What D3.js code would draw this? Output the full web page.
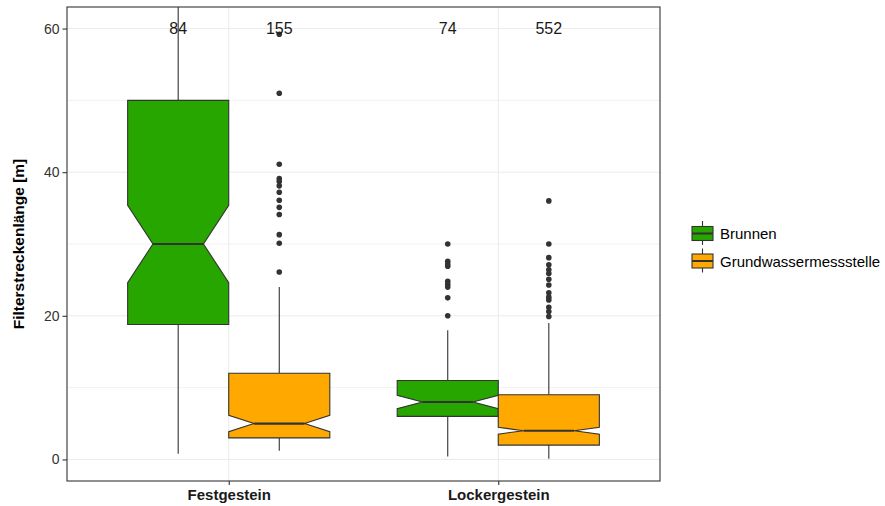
<!DOCTYPE html>
<html>
<head>
<meta charset="utf-8">
<script src="https://cdn.jsdelivr.net/npm/d3@7"></script>
<style>
  html, body { margin: 0; padding: 0; background: #fff; }
  svg { display: block; font-family: "Liberation Sans", Arial, sans-serif; }
</style>
</head>
<body>
<svg id="chart" width="885" height="506"></svg>
<script>
// Filter length by aquifer type and well type
const categories = ["Festgestein", "Lockergestein"];
const seriesNames = ["Brunnen", "Grundwassermessstelle"];
const seriesColors = ["#27a600", "#ffa800"];
const yTicks = [0, 20, 40, 60];
const yMinor = [10, 30, 50];

// One entry per box: Festgestein/Brunnen, Festgestein/GWM, Lockergestein/Brunnen, Lockergestein/GWM
const boxCategory = ["Festgestein", "Festgestein", "Lockergestein", "Lockergestein"];
const boxSeries   = ["Brunnen", "Grundwassermessstelle", "Brunnen", "Grundwassermessstelle"];
const boxN        = [84, 155, 74, 552];
const whiskerLow  = [0.8, 1.2, 0.4, 0.1];
const quartile1   = [18.8, 3, 6, 2];
const medians     = [30, 5, 8, 4];
const quartile3   = [50, 12, 11, 9];
const whiskerHigh = [75, 24, 18, 19];
const outliers = [
  [],
  [59.2, 51, 41.1, 39.1, 38.7, 38.1, 37.2, 36.1, 35.1, 34.1, 31.3, 30.1, 26.1],
  [30, 27.6, 27.2, 26.9, 24.8, 24.4, 24, 22.5, 20],
  [36, 30, 28.1, 27.1, 26.4, 25.9, 25.1, 24.3, 23.2, 22.6, 22.2, 21.2, 20.6, 19.9]
];
const countLabelY = 60;

const svg = d3.select("#chart");
const panel = { left: 67, right: 660, top: 7, bottom: 481 };

const x = d3.scalePoint().domain(categories).range([panel.left, panel.right]).padding(0.6);
const step = x.step();
const xSub = d3.scaleBand().domain(seriesNames).range([-0.375 * step, 0.375 * step]);
const y = d3.scaleLinear().domain([-3, 63]).range([panel.bottom, panel.top]);
const color = d3.scaleOrdinal().domain(seriesNames).range(seriesColors);

// clip region for the plotting panel
svg.append("defs").append("clipPath").attr("id", "panelClip")
  .append("rect")
  .attr("x", panel.left).attr("y", panel.top)
  .attr("width", panel.right - panel.left).attr("height", panel.bottom - panel.top);

// grid lines
const grid = svg.append("g");
grid.selectAll("line.minor").data(yMinor).join("line")
  .attr("x1", panel.left).attr("x2", panel.right)
  .attr("y1", d => y(d)).attr("y2", d => y(d))
  .attr("stroke", "#ebebeb").attr("stroke-width", 0.7);
grid.selectAll("line.major").data(yTicks).join("line")
  .attr("x1", panel.left).attr("x2", panel.right)
  .attr("y1", d => y(d)).attr("y2", d => y(d))
  .attr("stroke", "#ebebeb").attr("stroke-width", 1.1);
grid.selectAll("line.vmajor").data(categories).join("line")
  .attr("x1", d => x(d)).attr("x2", d => x(d))
  .attr("y1", panel.top).attr("y2", panel.bottom)
  .attr("stroke", "#ebebeb").attr("stroke-width", 1.1);

const boxes = d3.range(boxN.length).map(i => {
  const iqr = quartile3[i] - quartile1[i];
  const half = 1.58 * iqr / Math.sqrt(boxN[i]);
  return {
    cat: boxCategory[i], ser: boxSeries[i], n: boxN[i],
    lo: whiskerLow[i], q1: quartile1[i], med: medians[i], q3: quartile3[i], hi: whiskerHigh[i],
    notchLo: medians[i] - half, notchHi: medians[i] + half,
    out: outliers[i]
  };
});

const plot = svg.append("g").attr("clip-path", "url(#panelClip)");
const edge = "#333333";

boxes.forEach(b => {
  const cx = x(b.cat) + xSub(b.ser) + xSub.bandwidth() / 2;
  const w = xSub.bandwidth();
  const x0 = cx - w / 2, x1 = cx + w / 2;
  const indent = 0.25 * w;
  const g = plot.append("g");

  // whiskers
  g.append("line").attr("x1", cx).attr("x2", cx)
    .attr("y1", y(b.q3)).attr("y2", y(b.hi))
    .attr("stroke", edge).attr("stroke-width", 1.1);
  g.append("line").attr("x1", cx).attr("x2", cx)
    .attr("y1", y(b.q1)).attr("y2", y(b.lo))
    .attr("stroke", edge).attr("stroke-width", 1.1);

  // notched box
  const pts = [
    [x0, y(b.q3)], [x0, y(b.notchHi)], [x0 + indent, y(b.med)], [x0, y(b.notchLo)], [x0, y(b.q1)],
    [x1, y(b.q1)], [x1, y(b.notchLo)], [x1 - indent, y(b.med)], [x1, y(b.notchHi)], [x1, y(b.q3)]
  ];
  g.append("path").attr("d", d3.line()(pts) + "Z")
    .attr("fill", color(b.ser)).attr("stroke", edge).attr("stroke-width", 1.1)
    .attr("stroke-linejoin", "miter");

  // median
  g.append("line").attr("x1", x0 + indent).attr("x2", x1 - indent)
    .attr("y1", y(b.med)).attr("y2", y(b.med))
    .attr("stroke", edge).attr("stroke-width", 2.2);

  // outliers
  g.selectAll("circle").data(b.out).join("circle")
    .attr("cx", cx).attr("cy", d => y(d)).attr("r", 2.8)
    .attr("fill", "#333333");
});

// sample sizes
svg.append("g").selectAll("text").data(boxes).join("text")
  .attr("x", b => x(b.cat) + xSub(b.ser) + xSub.bandwidth() / 2)
  .attr("y", y(countLabelY))
  .attr("dy", "0.36em")
  .attr("text-anchor", "middle")
  .attr("font-size", 16)
  .attr("fill", "#1a1a1a")
  .text(b => b.n);

// panel border
svg.append("rect")
  .attr("x", panel.left).attr("y", panel.top)
  .attr("width", panel.right - panel.left).attr("height", panel.bottom - panel.top)
  .attr("fill", "none").attr("stroke", "#333333").attr("stroke-width", 1.1);

// axes
const yAxis = svg.append("g").attr("transform", `translate(${panel.left},0)`)
  .call(d3.axisLeft(y).tickValues(yTicks).tickSize(4.5).tickPadding(3));
yAxis.select(".domain").remove();
yAxis.selectAll(".tick line").attr("stroke", "#333333").attr("stroke-width", 1.1);
yAxis.selectAll(".tick text").attr("font-size", 14).attr("fill", "#333333")
  .attr("font-family", "Liberation Sans, Arial, sans-serif");

const xAxis = svg.append("g").attr("transform", `translate(0,${panel.bottom})`)
  .call(d3.axisBottom(x).tickSize(4).tickPadding(4));
xAxis.select(".domain").remove();
xAxis.selectAll(".tick line").attr("stroke", "#333333").attr("stroke-width", 1.1);
xAxis.selectAll(".tick text").attr("font-size", 15).attr("font-weight", "bold").attr("fill", "#1a1a1a")
  .attr("font-family", "'Liberation Sans Narrow', 'Arial Narrow', sans-serif")
  .attr("font-stretch", "condensed");

// y axis title
svg.append("text")
  .attr("transform", `translate(24,${(panel.top + panel.bottom) / 2}) rotate(-90)`)
  .attr("text-anchor", "middle")
  .attr("font-size", 15.5).attr("font-weight", "bold").attr("fill", "#000")
  .text("Filterstreckenlänge [m]");

// legend
const legend = svg.append("g").attr("transform", "translate(692,225)");
seriesNames.forEach((s, i) => {
  const g = legend.append("g").attr("transform", `translate(0,${i * 27.5})`);
  g.append("line").attr("x1", 10.5).attr("x2", 10.5).attr("y1", -4).attr("y2", 20)
    .attr("stroke", edge).attr("stroke-width", 1.1);
  g.append("rect").attr("x", 0).attr("y", 1.5).attr("width", 21).attr("height", 14)
    .attr("fill", color(s)).attr("stroke", edge).attr("stroke-width", 1.1);
  g.append("line").attr("x1", 0).attr("x2", 21).attr("y1", 8.5).attr("y2", 8.5)
    .attr("stroke", edge).attr("stroke-width", 2);
  g.append("text").attr("x", 28).attr("y", 9).attr("dy", "0.35em")
    .attr("font-size", 15).attr("fill", "#000").text(s);
});
</script>
</body>
</html>
